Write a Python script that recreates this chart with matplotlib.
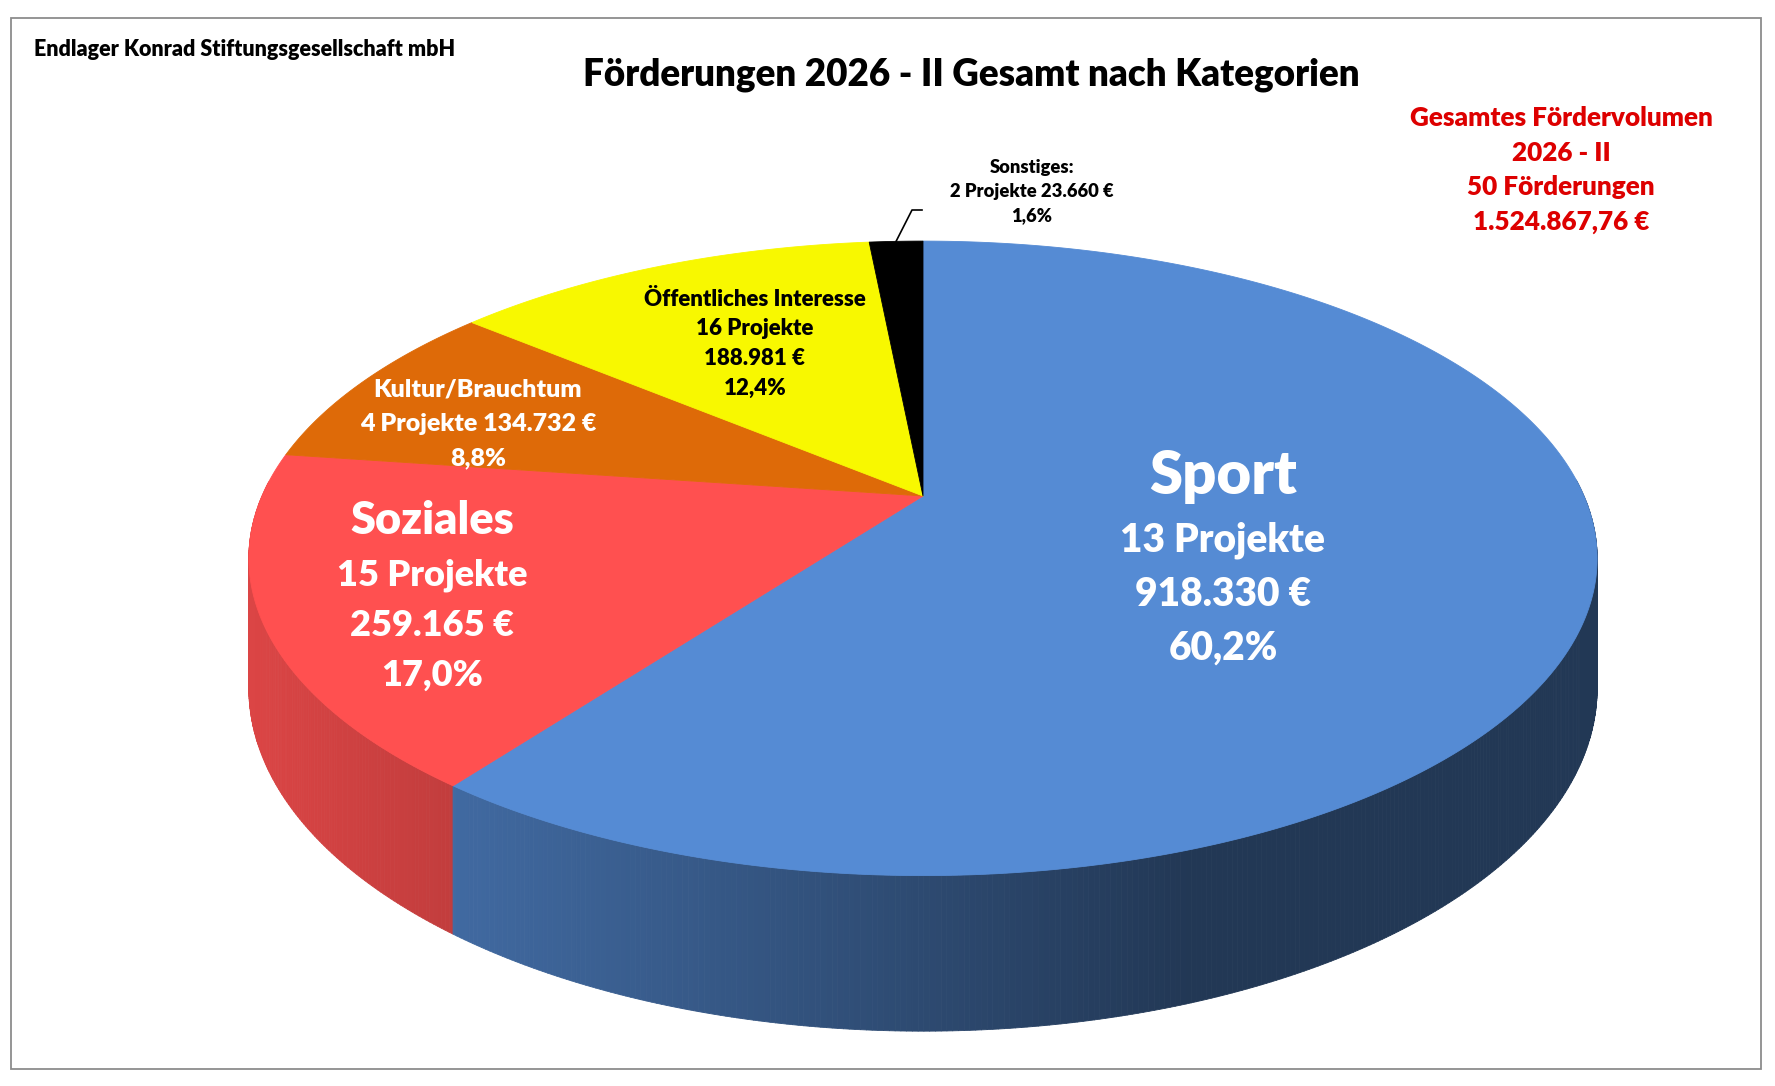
import numpy as np
import matplotlib
matplotlib.use("Agg")
import matplotlib.pyplot as plt
from matplotlib.patches import Polygon, Rectangle
from matplotlib.collections import PolyCollection
from matplotlib.colors import to_rgb

plt.rcParams['font.family'] = ['Lato', 'DejaVu Sans']

# Daten
kategorien = ['Sport', 'Soziales', 'Kultur/Brauchtum', 'Öffentliches Interesse', 'Sonstiges']
projekte = [13, 15, 4, 16, 2]
betraege = [918330, 259165, 134732, 188981, 23660]
farben = ['#558bd4', '#ff5050', '#de6a08', '#f8f800', '#000000']
gesamt_text = ['Gesamtes Fördervolumen', '2026 - II', '50 Förderungen', '1.524.867,76 €']

W, H_FIG = 1775, 1086
fig = plt.figure(figsize=(W / 100, H_FIG / 100), dpi=100)
ax = fig.add_axes([0, 0, 1, 1])
ax.set_xlim(0, W)
ax.set_ylim(H_FIG, 0)
ax.axis('off')

ax.add_patch(Rectangle((11, 18), 1750, 1051, fill=False, edgecolor='#8c8c8c', lw=1.3))

# Geometrie der 3D-Torte (perspektivisch)
cx, cy = 923, 496
A, B = 661, 305
p = 0.1965
tiefe = 125


def proj(phi, h=0.0):
    X = np.sin(phi)
    Z = -np.cos(phi)
    w = 1 - p * Z
    return cx + A * X / w, cy + (B * Z + h) / w


werte = np.array(betraege, dtype=float)
anteile = werte / werte.sum()
grenzen = np.concatenate([[0], np.cumsum(anteile)]) * 2 * np.pi

x_links = cx - A / np.sqrt(1 - p ** 2)
x_rechts = cx + A / np.sqrt(1 - p ** 2)

# Seitenwände
streifen = []
streifen_farben = []
streifen_z = []
for i in range(len(werte)):
    phis = np.linspace(grenzen[i], grenzen[i + 1], max(int(anteile[i] * 900), 3))
    basis = np.array(to_rgb(farben[i]))
    for a0, a1 in zip(phis[:-1], phis[1:]):
        zm = -np.cos((a0 + a1) / 2)
        if zm < -0.05:
            continue
        x0, y0 = proj(a0)
        x1, y1 = proj(a1)
        x2, y2 = proj(a1, tiefe)
        x3, y3 = proj(a0, tiefe)
        u = ((x0 + x1) / 2 - x_links) / (x_rechts - x_links)
        f = 0.86 - 0.46 * min(u / 0.7, 1.0)
        streifen.append([(x0, y0), (x1, y1), (x2, y2), (x3, y3)])
        streifen_farben.append(np.clip(basis * f, 0, 1))
        streifen_z.append(zm)

ordnung = np.argsort(streifen_z)
pc = PolyCollection([streifen[k] for k in ordnung],
                    facecolors=[streifen_farben[k] for k in ordnung],
                    edgecolors=[streifen_farben[k] for k in ordnung], linewidths=0.6)
ax.add_collection(pc)

# Oberseite
for i in range(len(werte)):
    phis = np.linspace(grenzen[i], grenzen[i + 1], max(int(anteile[i] * 900), 3))
    xs, ys = proj(phis)
    pts = [(cx, cy)] + list(zip(xs, ys))
    ax.add_patch(Polygon(pts, closed=True, facecolor=farben[i], edgecolor=farben[i], lw=0.6))


def euro(v):
    return f"{v:,.0f} €".replace(',', '.')


def prozent(a):
    return f"{a * 100:.1f}%".replace('.', ',')


fw = 'heavy'

# Beschriftungen
ax.text(34, 50, 'Endlager Konrad Stiftungsgesellschaft mbH', fontsize=15.5, fontweight=fw,
        ha='left', va='center', color='black')
ax.text(971, 75, 'Förderungen 2026 - II Gesamt nach Kategorien', fontsize=26.5, fontweight=fw,
        ha='center', va='center', color='black')
for k, zeile in enumerate(gesamt_text):
    ax.text(1561, 118 + k * 34.7, zeile, fontsize=18.8, fontweight=fw, ha='center', va='center',
            color='#dd0000')

# Sport
ax.text(1223, 476, kategorien[0], fontsize=43, fontweight=fw, ha='center', va='center', color='white')
for k, zeile in enumerate([f'{projekte[0]} Projekte', euro(betraege[0]), prozent(anteile[0])]):
    ax.text(1223, 540 + k * 54, zeile, fontsize=28, fontweight=fw, ha='center', va='center', color='white')

# Soziales
ax.text(432, 521, kategorien[1], fontsize=32.5, fontweight=fw, ha='center', va='center', color='white')
for k, zeile in enumerate([f'{projekte[1]} Projekte', euro(betraege[1]), prozent(anteile[1])]):
    ax.text(432, 575 + k * 50, zeile, fontsize=26, fontweight=fw, ha='center', va='center', color='white')

# Kultur/Brauchtum
for k, zeile in enumerate([kategorien[2], f'{projekte[2]} Projekte {euro(betraege[2])}', prozent(anteile[2])]):
    ax.text(478, 390 + k * 34, zeile, fontsize=18, fontweight=fw, ha='center', va='center', color='white')

# Öffentliches Interesse
for k, zeile in enumerate([kategorien[3], f'{projekte[3]} Projekte', euro(betraege[3]), prozent(anteile[3])]):
    ax.text(755, 299 + k * 29.7, zeile, fontsize=16, fontweight=fw, ha='center', va='center', color='black')

# Sonstiges
for k, zeile in enumerate([kategorien[4] + ':', f'{projekte[4]} Projekte {euro(betraege[4])}', prozent(anteile[4])]):
    ax.text(1032, 167 + k * 24.5, zeile, fontsize=13.2, fontweight=fw, ha='center', va='center', color='black')

mitte = (grenzen[4] + grenzen[5]) / 2
ax_, ay_ = proj(mitte)
ax.plot([ax_, 912, 922], [ay_, 210, 210], color='black', lw=1.2)

fig.savefig('out.png', dpi=100)
